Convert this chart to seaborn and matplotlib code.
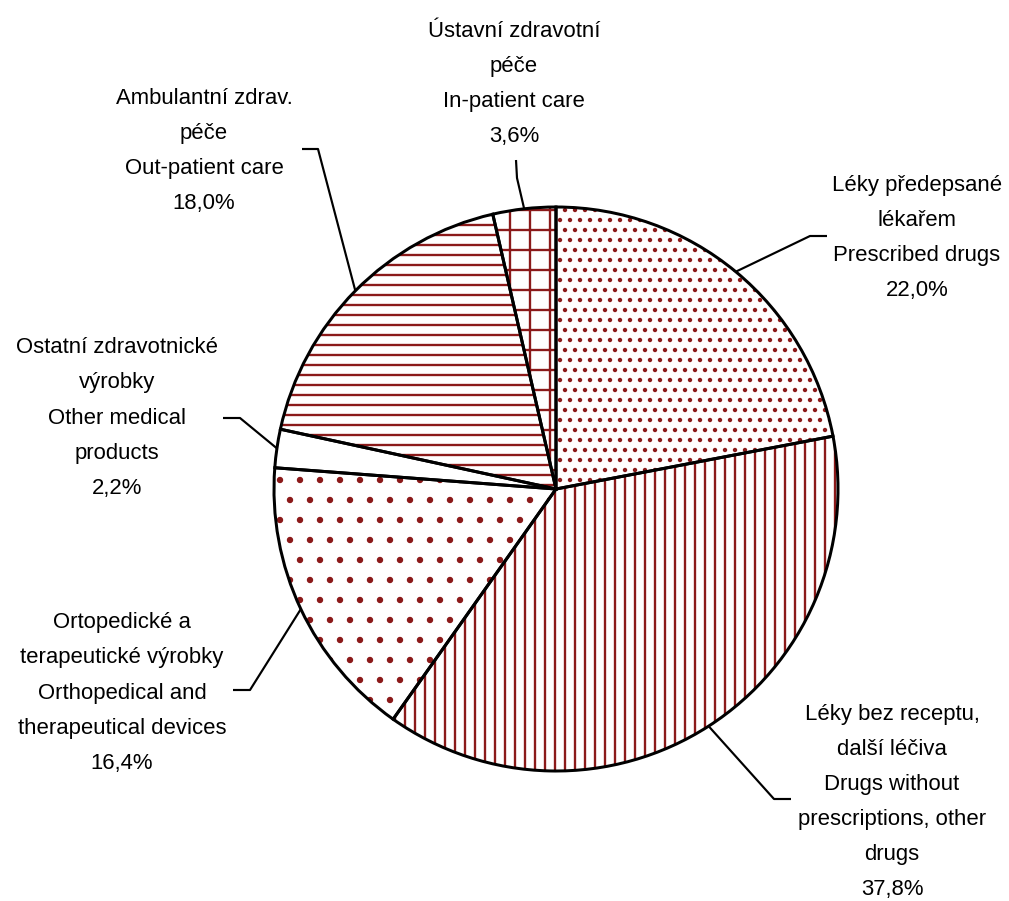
import numpy as np
import matplotlib
matplotlib.use("Agg")
import matplotlib.pyplot as plt
import seaborn as sns

sns.set_theme(style="white")
plt.rcParams['font.family'] = ['Liberation Sans', 'DejaVu Sans']
plt.rcParams['hatch.linewidth'] = 1.4

# ---- data ----
labels = [
    "Léky předepsané\nlékařem\nPrescribed drugs",
    "Léky bez receptu,\ndalší léčiva\nDrugs without\nprescriptions, other\ndrugs",
    "Ortopedické a\nterapeutické výrobky\nOrthopedical and\ntherapeutical devices",
    "Ostatní zdravotnické\nvýrobky\nOther medical\nproducts",
    "Ambulantní zdrav.\npéče\nOut-patient care",
    "Ústavní zdravotní\npéče\nIn-patient care",
]
values = [22.0, 37.8, 16.4, 2.2, 18.0, 3.6]
value_labels = ["22,0%", "37,8%", "16,4%", "2,2%", "18,0%", "3,6%"]

# ---- styling / layout ----
hatches = ["..", "||", ".", "", "--", "+"]
hatch_color = "#8b1a1a"
W, H, DPI = 1009, 901, 120
cx, cy, R = 556, H - 489, 282

# text centers (pixels, y from top) and leader elbow points
text_pos = [(917, 238), (892, 802), (122, 693), (117, 418), (204, 151), (514, 84)]
elbow = [((810, 236), (827, 236)),
         ((774, 799), (791, 799)),
         ((250, 690), (233, 690)),
         ((240, 418), (223, 418)),
         ((318, 149), (302, 149)),
         ((517, 178), (516, 160))]

fig = plt.figure(figsize=(W / DPI, H / DPI), dpi=DPI)
ax = fig.add_axes([0, 0, 1, 1])

wedges, _ = ax.pie(values, startangle=90, counterclock=False, center=(cx, cy),
                   radius=R, colors=["white"] * len(values), hatch=hatches,
                   wedgeprops=dict(edgecolor=hatch_color, linewidth=0),
                   frame=True)
ax.pie(values, startangle=90, counterclock=False, center=(cx, cy), radius=R,
       wedgeprops=dict(fill=False, edgecolor="black", linewidth=1.8),
       frame=True)

for w, lab, vl, (tx, ty), (e1, e2) in zip(wedges, labels, value_labels, text_pos, elbow):
    ang = np.deg2rad((w.theta1 + w.theta2) / 2)
    px, py = cx + R * np.cos(ang), cy + R * np.sin(ang)
    xs = [px, e1[0], e2[0]]
    ys = [py, H - e1[1], H - e2[1]]
    ax.plot(xs, ys, color="black", lw=1.3, solid_capstyle="butt", zorder=5)
    ax.text(tx, H - ty, lab + "\n" + vl, ha="center", va="center",
            fontsize=13.3, linespacing=1.88, color="black")

ax.set_xlim(0, W)
ax.set_ylim(0, H)
ax.set_aspect("equal")
ax.axis("off")
fig.savefig("out.png", dpi=DPI, facecolor="white")
